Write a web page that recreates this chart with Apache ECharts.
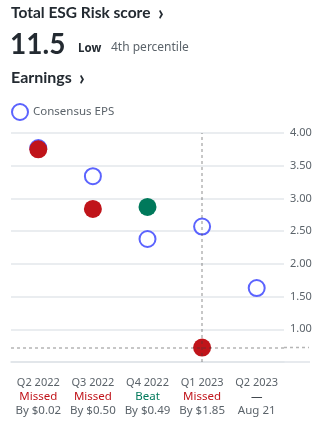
<!DOCTYPE html>
<html><head><meta charset="utf-8">
<script src="https://cdn.jsdelivr.net/npm/echarts@6/dist/echarts.min.js"></script>
<style>html,body{margin:0;padding:0;background:#fff}#c{width:331px;height:430px}</style>
</head><body><div id="c"></div>
<script>
const categories = ['Q2 2022','Q3 2022','Q4 2022','Q1 2023','Q2 2023'];
const consensusEPS = [3.77, 3.34, 2.38, 2.57, 1.63];
const actualEPS = [3.75, 2.84, 2.87, 0.72, null];
const results = ['Missed','Missed','Beat','Missed','—'];
const details = ['By $0.02','By $0.50','By $0.49','By $1.85','Aug 21'];
const yTicks = [0.5, 1.0, 1.5, 2.0, 2.5, 3.0, 3.5, 4.0];
const esgScore = '11.5';
const esgLevel = 'Low';
const esgPercentile = '4th percentile';

const RED = '#c0141a', GREEN = '#00795b', BLUE = '#5b63fe', GRAY = '#5b636a', DARK = '#232a31';
const FONT = '"Noto Sans", "Open Sans", sans-serif';
const HFONT = 'Lato, "Noto Sans", sans-serif';
const DASH = 'rgba(60,60,60,0.38)';
const chart = echarts.init(document.getElementById('c'));
const lastIdx = 3;
const resultKey = r => r === 'Missed' ? 'miss' : (r === 'Beat' ? 'beat' : 'none');

chart.setOption({
  animation: false,
  textStyle: { fontFamily: FONT },
  grid: { left: 11, right: 47, top: 133, bottom: 68, containLabel: false },
  legend: {
    data: [{ name: 'Consensus EPS', icon: 'circle' }],
    left: 11, top: 103, padding: 0, itemWidth: 16, itemHeight: 16, itemGap: 4,
    textStyle: { color: GRAY, fontSize: 11.5, fontFamily: FONT }
  },
  xAxis: {
    type: 'category', data: categories, boundaryGap: true,
    axisLine: { show: true, lineStyle: { color: '#dfe3e8', width: 1.5 } },
    axisTick: { show: false },
    axisLabel: {
      margin: 14, interval: 0, lineHeight: 14,
      formatter: (v, i) => {
        const r = results[i];
        return '{q|' + v + '}\n{' + resultKey(r) + '|' + r + '}\n{d|' + details[i] + '}';
      },
      rich: {
        q: { color: GRAY, fontSize: 11, lineHeight: 14, fontFamily: FONT },
        miss: { color: RED, fontSize: 11.5, lineHeight: 14, fontFamily: FONT },
        beat: { color: GREEN, fontSize: 11.5, lineHeight: 14, fontFamily: FONT },
        none: { color: DARK, fontSize: 11.5, lineHeight: 14, fontFamily: FONT },
        d: { color: GRAY, fontSize: 11.5, lineHeight: 14, fontFamily: FONT }
      }
    },
    splitLine: { show: false }
  },
  yAxis: {
    type: 'value', position: 'right', min: yTicks[0], max: yTicks[yTicks.length - 1], interval: 0.5,
    axisLine: { show: false }, axisTick: { show: false },
    axisLabel: { margin: 6, color: GRAY, fontSize: 11, fontFamily: FONT,
      formatter: v => v === yTicks[0] ? '' : v.toFixed(2) },
    splitLine: { lineStyle: { color: '#e3e7eb', width: 1.5 } }
  },
  series: [
    {
      name: 'Consensus EPS', type: 'scatter', data: consensusEPS, symbol: 'circle', symbolSize: 16, z: 2,
      itemStyle: { color: '#fff', borderColor: BLUE, borderWidth: 2, opacity: 1 }
    },
    {
      name: 'Actual EPS', type: 'scatter', data: actualEPS, symbol: 'circle', symbolSize: 18, z: 3,
      itemStyle: { opacity: 1, color: p => results[p.dataIndex] === 'Beat' ? GREEN : RED }
    },
    {
      name: 'guides', type: 'scatter', data: [], z: 5, silent: true,
      markLine: {
        silent: true, symbol: 'none', label: { show: false }, emphasis: { disabled: true },
        lineStyle: { color: DASH, type: [3, 3], width: 1.5 },
        data: [
          { xAxis: categories[lastIdx] },
          { yAxis: actualEPS[lastIdx] }
        ]
      }
    }
  ]
});

function place() {
  const y0 = chart.convertToPixel({ yAxisIndex: 0 }, yTicks[0]);
  const yA = chart.convertToPixel({ yAxisIndex: 0 }, actualEPS[lastIdx]);
  const xR = chart.convertToPixel({ xAxisIndex: 0 }, categories[categories.length - 1]) + 27.3;
  chart.setOption({
    graphic: [
      { type: 'text', left: 11, top: 5, style: { text: 'Total ESG Risk score', font: 'bold 15.5px ' + HFONT, fill: DARK } },
      { type: 'text', left: 158, top: 4, style: { text: '›', font: 'bold 20px ' + HFONT, fill: DARK } },
      { type: 'text', left: 10, top: 31, style: { text: esgScore, font: 'bold 28px ' + HFONT, fill: DARK } },
      { type: 'text', left: 78, top: 43, style: { text: esgLevel, font: 'bold 11.5px ' + FONT, fill: DARK } },
      { type: 'text', left: 111, top: 42, style: { text: esgPercentile, font: '12px ' + FONT, fill: GRAY } },
      { type: 'text', left: 11, top: 70, style: { text: 'Earnings', font: 'bold 16px ' + HFONT, fill: DARK } },
      { type: 'text', left: 79, top: 69, style: { text: '›', font: 'bold 20px ' + HFONT, fill: DARK } },
      { type: 'line', shape: { x1: xR, y1: y0, x2: 310, y2: y0 }, style: { stroke: '#dfe3e8', lineWidth: 1.5 }, z: 1 },
      { type: 'line', shape: { x1: xR, y1: yA, x2: 309, y2: yA }, style: { stroke: DASH, lineWidth: 1.5, lineDash: [3, 3] }, z: 10 }
    ]
  });
}
place();
</script></body></html>
